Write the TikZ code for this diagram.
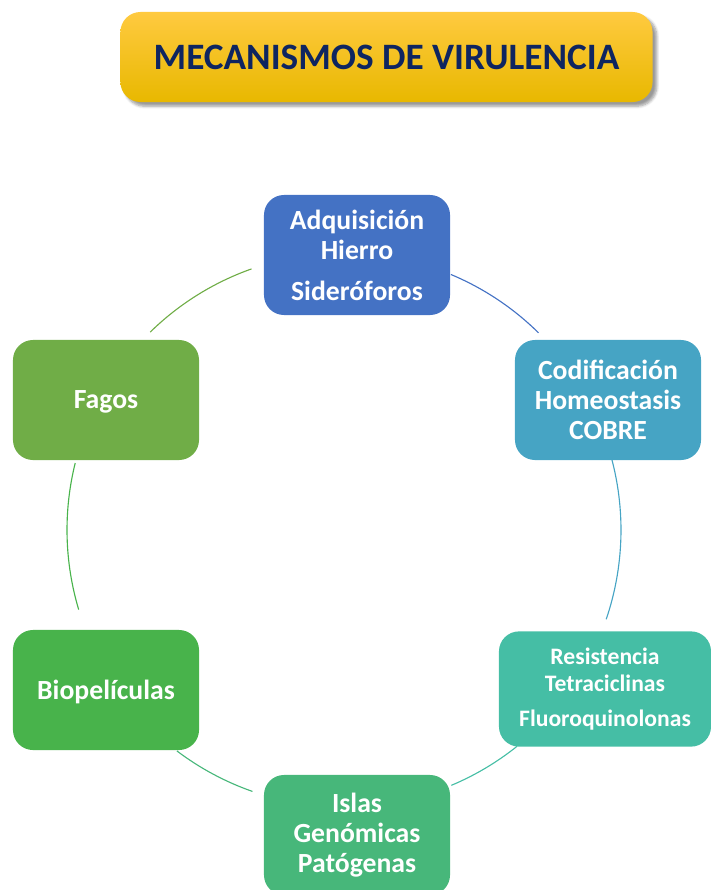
\documentclass[tikz,border=0pt]{standalone}
\usepackage{fontspec}
\setmainfont{Carlito}
\usetikzlibrary{shadows.blur}
\definecolor{adqcol}{HTML}{4472C4}
\definecolor{codcol}{HTML}{46A4C4}
\definecolor{rescol}{HTML}{45BEA5}
\definecolor{islcol}{HTML}{47B77A}
\definecolor{biocol}{HTML}{48B34B}
\definecolor{fagcol}{HTML}{70AD47}
\definecolor{titcol}{HTML}{0E2560}
\tikzset{%
    box/.style={rounded corners=0.5cm,minimum width=4.65cm,minimum height=3cm,
        inner sep=0pt,align=center,text=white,
        font=\fontsize{19.7}{21.3}\selectfont\bfseries},
    link/.style={line width=0.8pt}
}
\begin{document}
\begin{tikzpicture}[x=0.025cm,y=-0.025cm]
        \useasboundingbox (0,0) rectangle (711,890);
        \node[rounded corners=0.5cm,minimum width=13.3cm,minimum height=2.25cm,
            top color={rgb,255:red,255;green,202;blue,64},
            bottom color={rgb,255:red,232;green,184;blue,0},
            blur shadow={shadow xshift=3pt,shadow yshift=-3pt,shadow blur steps=6},
            text=titcol,font=\fontsize{26.5}{30}\selectfont\bfseries] (tit) at (386.5,57){MECANISMOS DE VIRULENCIA};

        \node[box,fill=adqcol] (adq) at (357,255){Adquisición\\Hierro\\[7.8pt]Sideróforos};
        \node[box,fill=codcol] (cod) at (608,400){Codificación\\Homeostasis\\COBRE};
        \node[box,fill=rescol,minimum width=5.3cm,minimum height=2.88cm,
            font=\fontsize{16.8}{19.2}\selectfont\bfseries] (res) at (605,689){Resistencia\\Tetraciclinas\\[5.7pt]Fluoroquinolonas};
        \node[box,fill=islcol] (isl) at (357,835){Islas\\Genómicas\\Patógenas};
        \node[box,fill=biocol,text depth=0pt] (bio) at (106,690){Biopelículas};
        \node[box,fill=fagcol,text depth=0pt] (fag) at (106,400){Fagos};

        \coordinate (ctr) at (344,530);
        \foreach \a/\b/\c in {-67.3/-45.4/adqcol, -14.7/18.8/codcol, 51.3/67.2/rescol,
            109.3/127.1/islcol, 163.3/194/biocol, 225.6/250.5/fagcol}
            \draw[link,\c] ([shift={(\a:277)}]ctr) arc[start angle=\a, end angle=\b, radius=277];
    \end{tikzpicture}
\end{document}
